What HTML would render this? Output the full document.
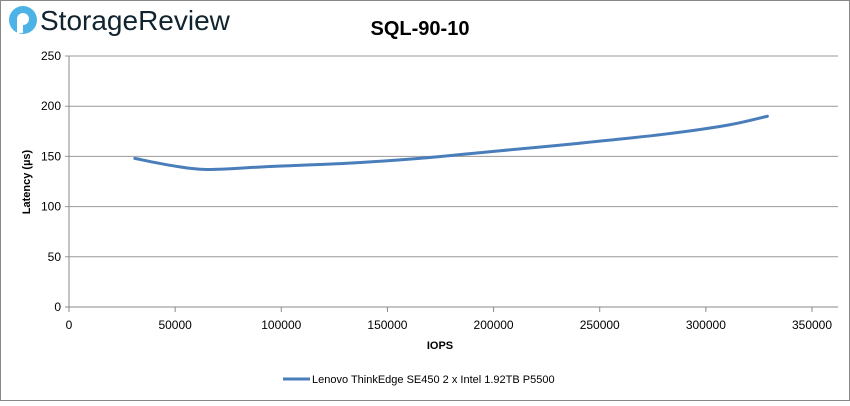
<!DOCTYPE html>
<html><head><meta charset="utf-8"><style>
body{margin:0;background:#fff;}
svg text{font-family:"Liberation Sans",sans-serif;}
</style></head><body>
<svg width="850" height="401" viewBox="0 0 850 401">
<rect x="0.5" y="0.5" width="849" height="400" fill="#fff" stroke="#888"/>
<g>
<circle cx="23" cy="20" r="14" fill="#4db3e6"/>
<circle cx="23" cy="19" r="6" fill="#fff"/>
<rect x="17" y="19" width="6" height="14" fill="#fff"/>
<text x="40" y="30" font-size="28" fill="#10232f">StorageReview</text>
</g>
<text x="420" y="35" font-size="20" font-weight="bold" text-anchor="middle">SQL-90-10</text>
<g id="grid"></g><g id="ticks"></g>
<text transform="translate(30,182) rotate(-90)" font-size="11" font-weight="bold" text-anchor="middle">Latency (µs)</text>
<text x="440" y="349" font-size="11" font-weight="bold" text-anchor="middle">IOPS</text>
<path id="series" fill="none" stroke="#4a7ebb" stroke-width="3" stroke-linecap="round"/>
<g>
<line x1="283" y1="379" x2="310" y2="379" stroke="#4a7ebb" stroke-width="3"/>
<text x="312" y="383" font-size="11">Lenovo ThinkEdge SE450 2 x Intel 1.92TB P5500</text>
</g>
</svg>
<script>
const xVals=[31000,48000,65000,95000,130000,165000,200000,240000,280000,310000,329000];
const yVals=[148,141,137,140,143,148,155,163,172,181,190];
const xTicks=[0,50000,100000,150000,200000,250000,300000,350000];
const yTicks=[0,50,100,150,200,250];
const X0=69,X1=812,Y0=307,Y1=56;
const sx=v=>X0+v/350000*(X1-X0), sy=v=>Y0-v/250*(Y0-Y1);
const ns='http://www.w3.org/2000/svg';
const g=document.getElementById('grid'), t=document.getElementById('ticks');
function mk(tag,a,p){const e=document.createElementNS(ns,tag);for(const k in a)e.setAttribute(k,a[k]);p.appendChild(e);return e;}
yTicks.forEach(v=>{
 const l=mk('line',{x1:X0-4,x2:838,y1:sy(v),y2:sy(v),stroke:v===0?'#888':'#999','stroke-width':1},g);
 
 
 const tx=mk('text',{x:X0-8,y:sy(v)+4,'font-size':12,'text-anchor':'end'},t);tx.textContent=v;
 
 
});
mk('line',{x1:X0,x2:X0,y1:Y1,y2:Y0,stroke:'#888'},g);
xTicks.forEach(v=>{
 const l=mk('line',{x1:sx(v),x2:sx(v),y1:Y0,y2:Y0+5,stroke:'#888'},g);
 
 
 const tx=mk('text',{x:sx(v),y:Y0+22,'font-size':12,'text-anchor':'middle'},t);tx.textContent=v;
 
 
});
const P=xVals.map((x,i)=>[sx(x),sy(yVals[i])]);
let d='M'+P[0][0]+','+P[0][1];
for(let i=0;i<P.length-1;i++){
 const p0=P[i-1]||P[i],p1=P[i],p2=P[i+1],p3=P[i+2]||P[i+1];
 const c1=[p1[0]+(p2[0]-p0[0])/6,p1[1]+(p2[1]-p0[1])/6];
 const c2=[p2[0]-(p3[0]-p1[0])/6,p2[1]-(p3[1]-p1[1])/6];
 d+=` C${c1[0]},${c1[1]} ${c2[0]},${c2[1]} ${p2[0]},${p2[1]}`;
}
document.getElementById('series').setAttribute('d',d);
</script>
</body></html>
